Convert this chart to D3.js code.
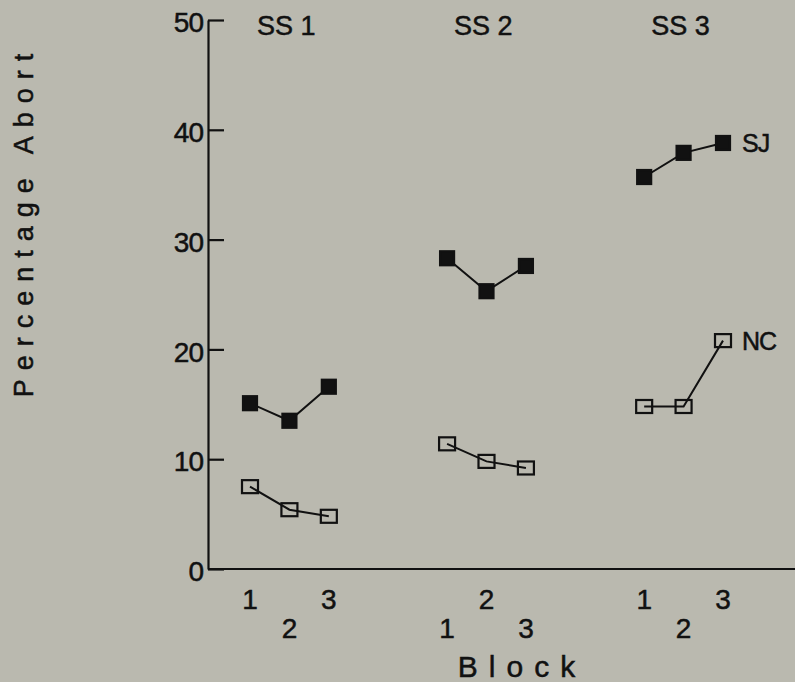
<!DOCTYPE html>
<html>
<head>
<meta charset="utf-8">
<script src="https://cdn.jsdelivr.net/npm/d3@7"></script>
<style>
  html, body { margin: 0; padding: 0; background: #bab9af; }
  svg { display: block; font-family: 'Liberation Sans', Arial, sans-serif; }
  svg text { stroke: #111; stroke-width: 0.5px; }
</style>
</head>
<body>
<svg id="chart" width="795" height="682"></svg>
<script>
var width = 795;
var height = 682;

// data
var sessions = ['SS 1', 'SS 2', 'SS 3'];
var blocks = [1, 2, 3];
var sjValues = [[15.1, 13.5, 16.6], [28.3, 25.3, 27.6], [35.7, 37.9, 38.8]];
var ncValues = [[7.5, 5.4, 4.8], [11.4, 9.8, 9.2], [14.8, 14.8, 20.8]];
var seriesNames = ['SJ', 'NC'];
// 0 = upper row of block labels, 1 = lower row
var blockRows = [[0, 1, 0], [1, 0, 1], [0, 1, 0]];
var yTicks = [0, 10, 20, 30, 40, 50];

var axisX = 208;
var y = d3.scaleLinear().domain([0, 50]).range([569, 20]);
// each session takes 5 slots, blocks sit on slots 0..2
var x = d3.scaleLinear().domain([0, 12]).range([250, 723]);
var pos = (s, b) => x(s * 5 + b);

var svg = d3.select('#chart');

// y axis, ticks point into the plot
var yAxis = svg.append('g')
  .attr('transform', 'translate(' + axisX + ',0)')
  .call(d3.axisLeft(y).tickValues(yTicks).tickSizeInner(-16).tickSizeOuter(0).tickPadding(5));
yAxis.select('.domain').attr('stroke', '#111').attr('stroke-width', 2.2);
yAxis.selectAll('.tick line').attr('stroke', '#111').attr('stroke-width', 2.2);
yAxis.selectAll('.tick text')
  .attr('fill', '#111')
  .attr('font-size', 28)
  .attr('font-family', "'Liberation Sans', Arial, sans-serif")
  .attr('dy', '0.42em')
  .style('letter-spacing', '-1px');

// x axis line
svg.append('line')
  .attr('x1', axisX).attr('x2', width)
  .attr('y1', y(0)).attr('y2', y(0))
  .attr('stroke', '#111').attr('stroke-width', 2.2);

// block labels under the axis
sessions.forEach((s, si) => {
  svg.selectAll('.blk' + si)
    .data(blocks).enter().append('text')
    .attr('x', (d, bi) => pos(si, bi))
    .attr('y', (d, bi) => blockRows[si][bi] ? 638 : 609)
    .attr('text-anchor', 'middle')
    .attr('font-size', 28)
    .attr('fill', '#111')
    .text(d => d);
});

// session labels along the top
svg.selectAll('.session')
  .data(sessions).enter().append('text')
  .attr('x', (d, i) => pos(i, 0) + 7)
  .attr('y', 35)
  .attr('font-size', 27)
  .attr('fill', '#111')
  .text(d => d);

var line = d3.line().x(d => d.x).y(d => d.y);

function drawSeries(values, filled) {
  values.forEach((vals, si) => {
    var pts = vals.map((v, bi) => ({ x: pos(si, bi), y: y(v) }));
    svg.append('path')
      .attr('d', line(pts))
      .attr('fill', 'none')
      .attr('stroke', '#111')
      .attr('stroke-width', 2);
    var w = filled ? 14 : 16;
    var h = filled ? 14 : 13;
    svg.selectAll(null)
      .data(pts).enter().append('rect')
      .attr('x', d => d.x - w / 2)
      .attr('y', d => d.y - h / 2)
      .attr('width', w)
      .attr('height', h)
      .attr('fill', filled ? '#111' : 'none')
      .attr('stroke', '#111')
      .attr('stroke-width', 2.2);
  });
}

drawSeries(sjValues, true);
drawSeries(ncValues, false);

// series names next to the last points
[sjValues, ncValues].forEach((vals, i) => {
  var last = vals[vals.length - 1];
  svg.append('text')
    .attr('x', pos(2, 2) + 19)
    .attr('y', y(last[last.length - 1]))
    .attr('dy', '0.38em')
    .attr('font-size', 25)
    .attr('fill', '#111')
    .style('letter-spacing', '-1px')
    .text(seriesNames[i]);
});

// axis titles
svg.append('text')
  .attr('transform', 'translate(33,221)rotate(-90)')
  .attr('text-anchor', 'middle')
  .attr('font-size', 27)
  .attr('fill', '#111')
  .style('letter-spacing', '9px')
  .text('Percentage Abort');

svg.append('text')
  .attr('x', 522)
  .attr('y', 677)
  .attr('text-anchor', 'middle')
  .attr('font-size', 30)
  .attr('fill', '#111')
  .style('letter-spacing', '11px')
  .text('Block');
</script>
</body>
</html>
